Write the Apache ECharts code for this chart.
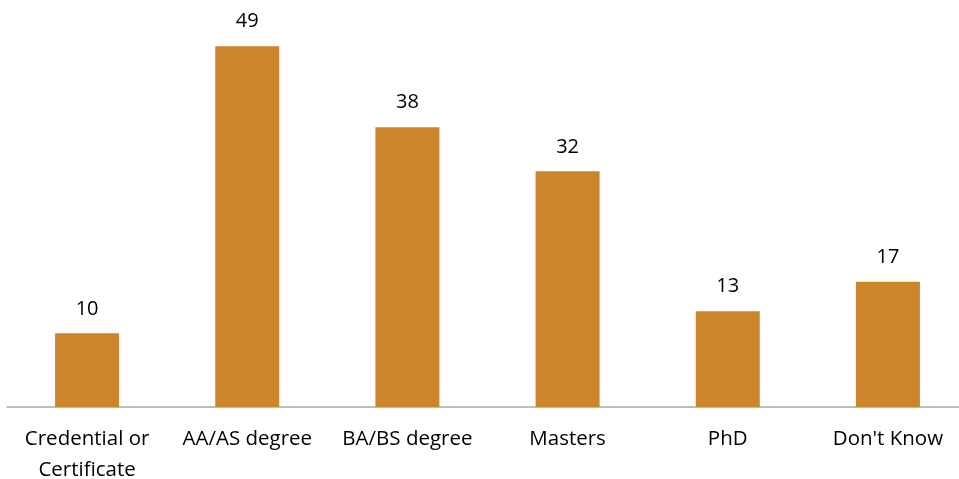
<!DOCTYPE html>
<html>
<head>
<meta charset="utf-8">
<script src="https://cdn.jsdelivr.net/npm/echarts@6/dist/echarts.min.js"></script>
<style>
  html, body { margin: 0; padding: 0; background: #fff; }
  #chart { width: 959px; height: 479px; }
</style>
</head>
<body>
<div id="chart"></div>
<script>
// Degree categories and response counts
const categories = ['Credential or\nCertificate', 'AA/AS degree', 'BA/BS degree', 'Masters', 'PhD', "Don't Know"];
const counts = [10, 49, 38, 32, 13, 17];

const chart = echarts.init(document.getElementById('chart'));
chart.setOption({
  animation: false,
  grid: { left: 7, width: 961, top: 2, bottom: 72, outerBoundsMode: 'none', containLabel: false },
  xAxis: {
    type: 'category',
    data: categories,
    axisLine: { lineStyle: { color: '#A6A6A6', width: 1.5 } },
    axisTick: { show: false },
    axisLabel: {
      color: '#000',
      fontFamily: '"Open Sans", sans-serif',
      fontSize: 20.5,
      lineHeight: 31,
      margin: 17,
      interval: 0
    }
  },
  yAxis: {
    type: 'value',
    min: 0,
    max: 55,
    show: false,
    splitLine: { show: false }
  },
  series: [{
    type: 'bar',
    data: counts,
    barWidth: 64,
    itemStyle: { color: '#CD852B' },
    label: {
      show: true,
      position: 'top',
      distance: 14.5,
      color: '#000',
      fontFamily: '"Open Sans", sans-serif',
      fontSize: 20
    }
  }]
});
</script>
</body>
</html>
